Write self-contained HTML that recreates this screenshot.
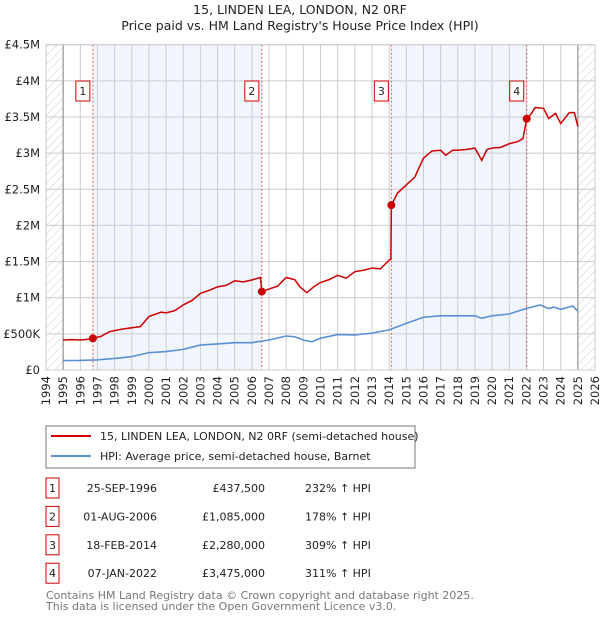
<!DOCTYPE html>
<html><head><meta charset="utf-8">
<style>
body{margin:0;background:#fff;font-family:"Liberation Sans","DejaVu Sans",sans-serif;}
svg text{font-family:"DejaVu Sans","Liberation Sans",sans-serif;}
</style></head>
<body>
<svg id="chart" width="600" height="620" viewBox="0 0 600 620" xmlns="http://www.w3.org/2000/svg">
<defs>
<pattern id="hatch" patternUnits="userSpaceOnUse" width="6" height="6" patternTransform="rotate(45)">
<line x1="0" y1="0" x2="0" y2="6" stroke="#ccc" stroke-width="1"/>
</pattern>
</defs>
<text x="300" y="14" text-anchor="middle" font-size="12.5" fill="#222">15, LINDEN LEA, LONDON, N2 0RF</text>
<text x="300" y="30" text-anchor="middle" font-size="12.5" fill="#222">Price paid vs. HM Land Registry's House Price Index (HPI)</text>
<g id="grid"></g>
<g id="series"></g>
<g id="axes"></g>
<rect x="46" y="426" width="369" height="42" fill="#fff" stroke="#777"/>
<line x1="51" y1="436" x2="91" y2="436" stroke="#cc0000" stroke-width="2"/>
<text x="100" y="440" font-size="11" fill="#222">15, LINDEN LEA, LONDON, N2 0RF (semi-detached house)</text>
<line x1="51" y1="456" x2="91" y2="456" stroke="#5b8fd6" stroke-width="2"/>
<text x="100" y="460" font-size="11" fill="#222">HPI: Average price, semi-detached house, Barnet</text>
<g id="table" font-size="11" fill="#222"></g>
<text x="46" y="599" font-size="11" fill="#777">Contains HM Land Registry data © Crown copyright and database right 2025.</text>
<text x="46" y="610" font-size="11" fill="#777">This data is licensed under the Open Government Licence v3.0.</text>
</svg>
<script>
const yTicks=[0,500000,1000000,1500000,2000000,2500000,3000000,3500000,4000000,4500000];
const yTickLabels=["£0","£500K","£1M","£1.5M","£2M","£2.5M","£3M","£3.5M","£4M","£4.5M"];
const xYears=[1994,1995,1996,1997,1998,1999,2000,2001,2002,2003,2004,2005,2006,2007,2008,2009,2010,2011,2012,2013,2014,2015,2016,2017,2018,2019,2020,2021,2022,2023,2024,2025,2026];
const priceYears=[1995,1995.5,1996,1996.5,1996.73,1997.2,1997.7,1998.3,1999,1999.5,2000,2000.7,2001,2001.5,2002,2002.5,2003,2003.5,2004,2004.5,2005,2005.5,2006,2006.5,2006.58,2007,2007.5,2008,2008.5,2008.8,2009.2,2009.6,2010,2010.5,2011,2011.5,2012,2012.5,2013,2013.5,2014,2014.1,2014.13,2014.5,2015,2015.5,2016,2016.5,2017,2017.3,2017.7,2018,2018.5,2019,2019.4,2019.7,2020,2020.5,2021,2021.5,2021.8,2022.02,2022.3,2022.5,2023,2023.3,2023.7,2024,2024.5,2024.8,2025];
const priceValues=[415000,420000,415000,425000,437500,465000,530000,560000,585000,600000,740000,800000,790000,820000,900000,960000,1060000,1100000,1150000,1170000,1235000,1220000,1245000,1280000,1085000,1120000,1160000,1280000,1250000,1150000,1070000,1150000,1210000,1250000,1310000,1270000,1360000,1380000,1410000,1400000,1520000,1530000,2280000,2450000,2560000,2670000,2930000,3030000,3040000,2970000,3040000,3040000,3050000,3070000,2900000,3050000,3070000,3080000,3130000,3160000,3200000,3475000,3550000,3630000,3620000,3480000,3550000,3410000,3560000,3560000,3370000];
const hpiYears=[1995,1996,1997,1998,1999,2000,2001,2002,2003,2004,2005,2006,2007,2008,2008.5,2009,2009.5,2010,2011,2012,2013,2014,2015,2016,2017,2018,2019,2019.4,2020,2021,2022,2022.8,2023.3,2023.6,2024,2024.7,2025];
const hpiValues=[130000,132000,140000,160000,185000,240000,255000,285000,345000,360000,378000,378000,415000,470000,460000,415000,390000,440000,490000,485000,510000,555000,645000,730000,750000,750000,750000,715000,750000,775000,853000,900000,850000,870000,840000,885000,816000];
const saleYears=[1996.73,2006.58,2014.13,2022.02];
const saleValues=[437500,1085000,2280000,3475000];
const saleLabels=["1","2","3","4"];
const saleDates=["25-SEP-1996","01-AUG-2006","18-FEB-2014","07-JAN-2022"];
const salePrices=["£437,500","£1,085,000","£2,280,000","£3,475,000"];
const saleHpi=["232% ↑ HPI","178% ↑ HPI","309% ↑ HPI","311% ↑ HPI"];

const X0=46,X1=595,Y0=370,Y1=44.7;
const xs=y=>X0+(y-1994)/(2026-1994)*(X1-X0);
const ys=v=>Y0-v/4500000*(Y0-Y1);
const NS="http://www.w3.org/2000/svg";
function mk(tag,attrs,parent){const e=document.createElementNS(NS,tag);for(const k in attrs)e.setAttribute(k,attrs[k]);parent.appendChild(e);return e;}
const grid=document.getElementById('grid'),series=document.getElementById('series'),axes=document.getElementById('axes'),table=document.getElementById('table');

let bg=mk('rect',{x:X0,y:Y1,width:X1-X0,height:Y0-Y1,fill:'#fff'},grid);


for(let i=0;i<saleYears.length;i+=2){
  const s=mk('rect',{x:xs(saleYears[i]),y:Y1,width:xs(saleYears[i+1])-xs(saleYears[i]),height:Y0-Y1,fill:'#eef3fc',opacity:0.8},grid);
  
  
}
let h1=mk('rect',{x:X0,y:Y1,width:xs(1995)-X0,height:Y0-Y1,fill:'url(#hatch)'},grid);


let h2=mk('rect',{x:xs(2025),y:Y1,width:X1-xs(2025),height:Y0-Y1,fill:'url(#hatch)'},grid);


yTicks.forEach((t,i)=>{
  const l=mk('line',{x1:X0,x2:X1,y1:ys(t),y2:ys(t),stroke:'#ccc','stroke-width':1},grid);
  
  
  const tx=mk('text',{x:X0-6,y:ys(t)+4,'text-anchor':'end','font-size':11.5,fill:'#222'},axes);
  tx.textContent=yTickLabels[i];
  
  
});
xYears.forEach(yr=>{
  const l=mk('line',{x1:xs(yr),x2:xs(yr),y1:Y1,y2:Y0,stroke:'#ccc','stroke-width':1},grid);
  
  
  const tx=mk('text',{x:0,y:0,'font-size':11.5,fill:'#222','text-anchor':'end',transform:`translate(${xs(yr)+4},${Y0+6}) rotate(-90)`},axes);
  tx.textContent=yr;
  
  
});
[1995,2025].forEach(yr=>{
  const l=mk('line',{x1:xs(yr),x2:xs(yr),y1:Y1,y2:Y0,stroke:'#888','stroke-width':1},grid);
  
  
});
saleYears.forEach((yr,i)=>{
  const l=mk('line',{x1:xs(yr),x2:xs(yr),y1:Y1,y2:Y0,stroke:'#e06060','stroke-width':1,'stroke-dasharray':'2,2'},grid);
  
  
  const b=mk('rect',{x:xs(yr)-17,y:81,width:14,height:20,fill:'#fff',stroke:'#cc0000'},axes);
  
  
  const t=mk('text',{x:xs(yr)-10,y:95,'text-anchor':'middle','font-size':11,fill:'#222'},axes);
  t.textContent=saleLabels[i];
  
  
});
const hp=mk('polyline',{points:hpiYears.map((y,i)=>xs(y)+','+ys(hpiValues[i])).join(' '),fill:'none',stroke:'#5b8fd6','stroke-width':1.6},series);


const pp=mk('polyline',{points:priceYears.map((y,i)=>xs(y)+','+ys(priceValues[i])).join(' '),fill:'none',stroke:'#cc0000','stroke-width':1.5},series);


saleYears.forEach((yr,i)=>{
  const c=mk('circle',{cx:xs(yr),cy:ys(saleValues[i]),r:4,fill:'#cc0000'},series);
  
  
});
const ax=mk('rect',{x:X0,y:Y1,width:X1-X0,height:Y0-Y1,fill:'none',stroke:'#ccc'},axes);


saleLabels.forEach((lab,i)=>{
  const cy=488+i*28.4;
  const b=mk('rect',{x:46,y:cy-10,width:13,height:20,fill:'#fff',stroke:'#cc0000'},table);
  
  
  const cells=[[52.5,lab,'middle'],[157,saleDates[i],'end'],[265,salePrices[i],'end'],[305,saleHpi[i],'start']];
  cells.forEach(c=>{
    const t=mk('text',{x:c[0],y:cy+4,'text-anchor':c[2]},table);
    t.textContent=c[1];
    
    
  });
});
</script>
</body></html>
